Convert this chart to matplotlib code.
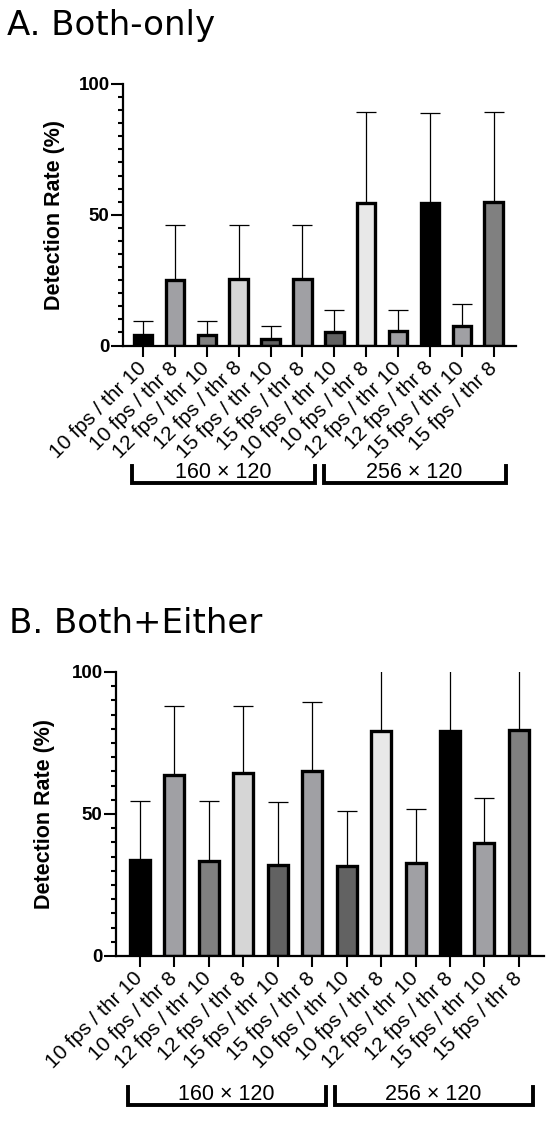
import numpy as np
import matplotlib
matplotlib.use("Agg")
import matplotlib.pyplot as plt
import matplotlib.transforms as mtransforms
from matplotlib.ticker import MultipleLocator

labels = [
    '10 fps / thr 10', '10 fps / thr 8',
    '12 fps / thr 10', '12 fps / thr 8',
    '15 fps / thr 10', '15 fps / thr 8',
    '10 fps / thr 10', '10 fps / thr 8',
    '12 fps / thr 10', '12 fps / thr 8',
    '15 fps / thr 10', '15 fps / thr 8',
]
groups = ['160 × 120', '256 × 120']
group_idx = [(0, 5), (6, 11)]

bar_colors = ['#000000', '#a0a0a4', '#808080', '#d6d6d6', '#626262', '#a0a0a4',
              '#626262', '#e8e8e8', '#a0a0a4', '#000000', '#a0a0a4', '#808080']

# A. Both-only
both_only = [4.1, 25.1, 4.1, 25.5, 2.5, 25.5, 5.2, 54.4, 5.7, 54.4, 7.3, 55.0]
both_only_err = [5.1, 21.0, 5.1, 20.6, 5.0, 20.6, 8.2, 34.8, 7.9, 34.5, 8.5, 34.2]

# B. Both+Either
both_either = [33.7, 63.8, 33.6, 64.3, 32.0, 65.1, 31.7, 79.4, 32.8, 79.1, 39.8, 79.7]
both_either_err = [20.9, 24.3, 21.0, 23.8, 22.2, 24.3, 19.4, 25.0, 18.8, 25.0, 15.8, 25.0]

tick_font = 'Liberation Sans'
title_font = 'DejaVu Sans'

fig = plt.figure(figsize=(5.5, 11.21), dpi=100)


def draw_panel(ax, vals, errs, xlim):
    x = np.arange(len(vals))
    ax.errorbar(x, vals, yerr=[np.zeros(len(vals)), errs], fmt='none',
                ecolor='black', elinewidth=0.9, capsize=7.5, capthick=0.9, zorder=1)
    ax.bar(x, vals, width=0.58, color=bar_colors, edgecolor='black',
           linewidth=2.4, zorder=2)
    ax.set_xlim(*xlim)
    ax.set_ylim(0, 100)
    for s in ['top', 'right']:
        ax.spines[s].set_visible(False)
    for s in ['left', 'bottom']:
        ax.spines[s].set_linewidth(1.6)
    ax.set_yticks([0, 50, 100])
    ax.yaxis.set_minor_locator(MultipleLocator(5))
    ax.tick_params(axis='y', which='major', length=8.5, width=1.5, pad=1)
    ax.tick_params(axis='y', which='minor', length=3.5, width=1.5)
    ax.tick_params(axis='x', length=8, width=1.5, pad=6)
    for t in ax.get_yticklabels():
        t.set_fontfamily(tick_font)
        t.set_fontweight('bold')
        t.set_fontsize(13.5)
    ax.set_xticks(x)
    ax.set_xticklabels(labels, rotation=45, ha='right', va='center',
                       rotation_mode='anchor', fontsize=15, fontfamily=tick_font)
    ax.set_ylabel('Detection Rate (%)', fontsize=15.5, fontweight='bold',
                  fontfamily=tick_font)

    trans = mtransforms.blended_transform_factory(ax.transData, ax.transAxes)
    for name, (i0, i1) in zip(groups, group_idx):
        xs = [i0 - 0.34, i0 - 0.34, i1 + 0.4, i1 + 0.4]
        ys = [-0.46, -0.525, -0.525, -0.46]
        ax.plot(xs, ys, color='black', lw=2.8, transform=trans, clip_on=False,
                solid_joinstyle='miter')
        ax.text((i0 + i1) / 2, -0.486, name, transform=trans,
                ha='center', va='center', fontsize=15.5, fontfamily=tick_font)


axA = fig.add_axes([122.7 / 550, 1 - 345.5 / 1121, 393 / 550, 261.5 / 1121])
draw_panel(axA, both_only, both_only_err, (-0.64, 11.69))
axA.yaxis.set_label_coords(-0.147, 0.5)

axB = fig.add_axes([115.8 / 550, 1 - 956 / 1121, 428 / 550, 284 / 1121])
draw_panel(axB, both_either, both_either_err, (-0.69, 11.72))
axB.yaxis.set_label_coords(-0.143, 0.5)

fig.text(7 / 550, 1 - 35 / 1121, 'A. Both-only', fontsize=24.5, fontfamily=title_font,
         va='baseline', ha='left')
fig.text(9 / 550, 1 - 633 / 1121, 'B. Both+Either', fontsize=24.5, fontfamily=title_font,
         va='baseline', ha='left')

fig.savefig('out.png', dpi=100)
